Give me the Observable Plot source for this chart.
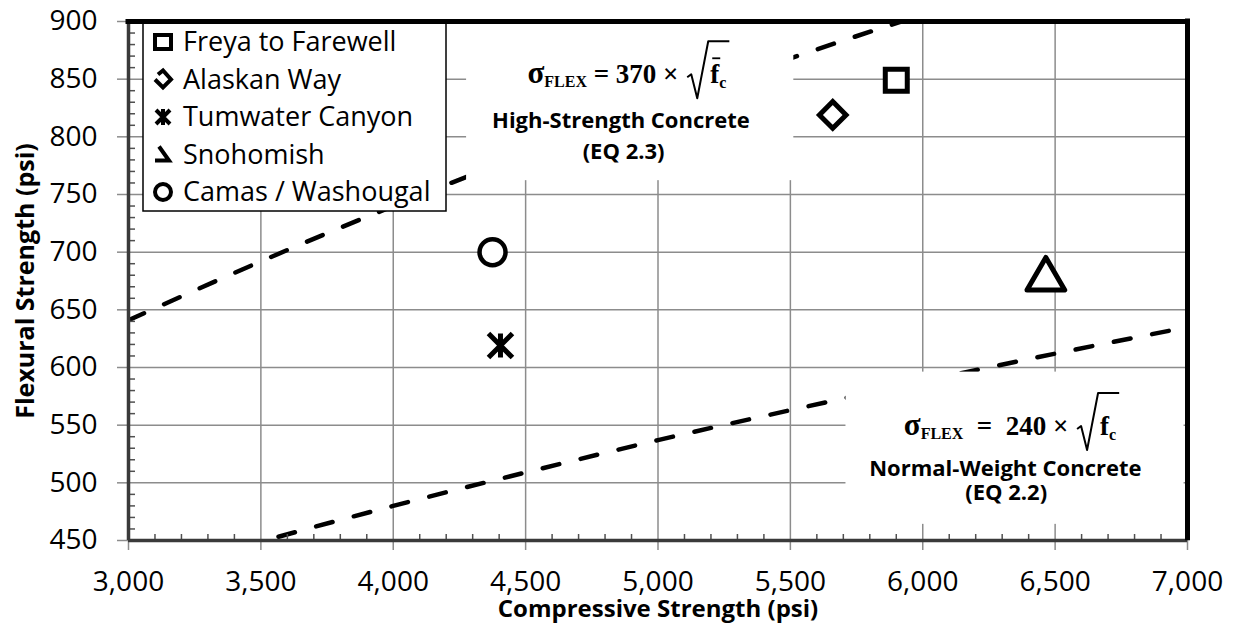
<!DOCTYPE html>
<html><head><meta charset="utf-8">
<script src="https://cdn.jsdelivr.net/npm/d3@7"></script>
<script src="https://cdn.jsdelivr.net/npm/@observablehq/plot@0.6"></script>
<style>
html,body{margin:0;padding:0;background:#fff;}
#chart{width:1234px;height:634px;}
</style></head><body><div id="chart"></div>
<script>
// ---------- data ----------
const projects = ["Freya to Farewell", "Alaskan Way", "Tumwater Canyon", "Snohomish", "Camas / Washougal"];
const compressive = [5900, 5660, 4405, 6465, 4375];
const flexural = [849, 819, 619, 680, 700];

// EQ 2.3 (high-strength) curve
const highFc = [3000, 3500, 4000, 4500, 5000, 5500, 6000];
const highFlex = [641, 692, 740, 785, 827, 868, 906];
// EQ 2.2 (normal-weight) curve
const normalFc = [3000, 3500, 4000, 4500, 5000, 5500, 6000, 6500, 7000];
const normalFlex = [416, 449, 480, 509, 537, 563, 588, 612, 635];

const xTicks = [3000, 3500, 4000, 4500, 5000, 5500, 6000, 6500, 7000];
const yTicks = [450, 500, 550, 600, 650, 700, 750, 800, 850, 900];

const eqHigh = {coef: "370", name: "High-Strength Concrete", ref: "(EQ 2.3)"};
const eqNormal = {coef: "240", name: "Normal-Weight Concrete", ref: "(EQ 2.2)"};

// ---------- derived tables ----------
const points = projects.map((name, i) => ({name, x: compressive[i], y: flexural[i]}));
const highLine = highFc.map((x, i) => ({x, y: highFlex[i]}));
const normalLine = normalFc.map((x, i) => ({x, y: normalFlex[i]}));
const xMinor = d3.range(3100, 7000, 100).filter(v => v % 500 !== 0);
const yMinor = d3.range(460, 900, 10).filter(v => v % 50 !== 0);

const W = 1234, H = 634, mL = 128, mR = 47, mT = 21, mB = 94;
const frameW = W - mL - mR, frameH = H - mT - mB;
const GRID = "#8c8c8c";

const star = {
  draw(ctx, size) {
    const r = Math.sqrt(size / Math.PI);
    ctx.moveTo(-r, -r); ctx.lineTo(r, r);
    ctx.moveTo(-r, r); ctx.lineTo(r, -r);
    ctx.moveTo(0, -r); ctx.lineTo(0, r);
  }
};
const mk = {stroke: "black", fill: "white", strokeWidth: 5};
const pick = i => points.filter(d => d.name === projects[i]);
const dash = {x: "x", y: "y", stroke: "black", strokeWidth: 4.5, strokeDasharray: "17 22", strokeLinecap: "round", curve: "monotone-x", clip: true};

const plot = Plot.plot({
  width: W, height: H,
  marginLeft: mL, marginRight: mR, marginTop: mT, marginBottom: mB,
  x: {type: "linear", domain: [3000, 7000]},
  y: {type: "linear", domain: [450, 900]},
  style: {fontFamily: "'Open Sans', sans-serif", fontSize: "28px", background: "white", color: "black"},
  marks: [
    Plot.gridX(xTicks, {stroke: GRID, strokeOpacity: 1, strokeWidth: 1.5}),
    Plot.gridY(yTicks, {stroke: GRID, strokeOpacity: 1, strokeWidth: 1.5}),
    Plot.line(highLine, dash),
    Plot.line(normalLine, dash),
    // white annotation boxes
    Plot.rect([{x1: 4277, x2: 5513, y1: 762, y2: 900}, {x1: 5710, x2: 6987, y1: 464, y2: 596}],
      {x1: "x1", x2: "x2", y1: "y1", y2: "y2", fill: "white"}),
    Plot.text([
      {x: 4860, y: 808, t: eqHigh.name}, {x: 4870, y: 781, t: eqHigh.ref},
      {x: 6312, y: 506, t: eqNormal.name}, {x: 6315, y: 485, t: eqNormal.ref}
    ], {x: "x", y: "y", text: "t", lineAnchor: "bottom", fontWeight: "bold", fontSize: 22, className: "eqlabels"}),
    Plot.dot(pick(0), {x: "x", y: "y", symbol: "square", r: 12.4, ...mk}),
    Plot.dot(pick(1), {x: "x", y: "y", symbol: "diamond2", r: 12, ...mk}),
    Plot.dot(pick(2), {x: "x", y: "y", symbol: star, r: 12, ...mk, strokeWidth: 5}),
    Plot.dot(pick(3), {x: "x", y: "y", symbol: "triangle", r: 14, dy: 4, ...mk, strokeLinejoin: "round"}),
    Plot.dot(pick(4), {x: "x", y: "y", symbol: "circle", r: 13, ...mk, strokeWidth: 4.5}),
    // minor ticks (inside)
    Plot.tickX(xMinor, {x: d => d, insetTop: frameH - 6, stroke: "#505050", strokeWidth: 1.5}),
    Plot.tickY(yMinor, {y: d => d, insetRight: frameW - 7, stroke: "#505050", strokeWidth: 1.5}),
    // axes
    Plot.axisX(xTicks, {tickFormat: d3.format(","), tickSize: 10, tickPadding: 21, label: null, stroke: GRID, strokeWidth: 1.5}),
    Plot.axisY(yTicks, {tickSize: 11, tickPadding: 20, label: null, stroke: GRID, strokeWidth: 1.5}),
    Plot.ruleX([3000], {y1: 450, y2: 900, stroke: "#3a3a3a", strokeWidth: 3.5}),
    Plot.ruleY([450], {x1: 3000, x2: 7000, stroke: "#3a3a3a", strokeWidth: 3.5}),
    Plot.ruleY([900], {x1: 3000, x2: 7000, stroke: "black", strokeWidth: 5, strokeLinecap: "square"}),
    Plot.ruleX([7000], {y1: 452, y2: 900, stroke: "black", strokeWidth: 5, strokeLinecap: "square"}),
    // axis titles
    Plot.text(["Compressive Strength (psi)"], {text: d => d, frameAnchor: "bottom", dy: 76, lineAnchor: "bottom", textAnchor: "middle", fontWeight: "bold", fontSize: 24}),
    Plot.text(["Flexural Strength (psi)"], {text: d => d, frameAnchor: "left", dx: -95, rotate: -90, lineAnchor: "bottom", textAnchor: "middle", fontWeight: "bold", fontSize: 25})
  ]
});
document.getElementById("chart").append(plot);

const svg = d3.select(plot);
const sx = plot.scale("x"), sy = plot.scale("y");

// ---------- legend ----------
const lg = d3.create("svg:g").attr("class", "legend").attr("text-anchor", "start");
lg.append("rect").attr("x", 143).attr("y", 22).attr("width", 303).attr("height", 189)
  .attr("fill", "white").attr("stroke", "black").attr("stroke-width", 1.5);
const legendGlyph = [
  (cx, cy) => `M${cx-8},${cy-7}H${cx+8}V${cy+7}H${cx-8}Z`,
  (cx, cy) => `M${cx-5},${cy-5}L${cx},${cy-9}L${cx+8},${cy}L${cx},${cy+8}L${cx-8},${cy}`,
  (cx, cy) => `M${cx-7},${cy-7}L${cx+7},${cy+7}M${cx-7},${cy+7}L${cx+7},${cy-7}M${cx},${cy-8}V${cy+8}`,
  (cx, cy) => `M${cx-4},${cy-8}L${cx+6},${cy+6}H${cx-8}`,
  (cx, cy) => `M${cx+8},${cy}A8,8 0 1,1 ${cx-8},${cy}A8,8 0 1,1 ${cx+8},${cy}Z`
];
projects.forEach((name, i) => {
  const by = 51 + i * 37.5;
  lg.append("path").attr("d", legendGlyph[i](163, by - 9))
    .attr("fill", "none").attr("stroke", "black").attr("stroke-width", 4).attr("stroke-linejoin", "miter");
  lg.append("text").attr("x", 183).attr("y", by).attr("font-size", 27).attr("text-anchor", "start").text(name);
});
svg.insert(() => lg.node(), ".eqlabels");

// ---------- equations ----------
function equation(cxv, cyv, coef, spaced, macron) {
  const g = svg.append("g").attr("font-family", "'Liberation Serif', 'DejaVu Serif', serif")
    .attr("font-weight", "bold").attr("text-anchor", "start").style("white-space", "pre");
  const t = g.append("text").attr("font-size", 27).attr("text-anchor", "start").style("white-space", "pre");
  t.append("tspan").attr("font-size", 31).text("σ");
  t.append("tspan").attr("font-size", 16).attr("dy", 4).text("FLEX");
  t.append("tspan").attr("dy", -4).text((spaced ? "  =  " : " = ") + coef + " × ");
  const w1 = t.node().getComputedTextLength();
  const rx = w1 + 2;
  const r = g.append("text").attr("x", rx + 23).attr("font-size", 27).attr("text-anchor", "start").style("white-space", "pre");
  r.append("tspan").text("f");
  const fw = r.node().getComputedTextLength();
  r.append("tspan").attr("font-size", 16).attr("dy", 5).text("c");
  const wr = r.node().getComputedTextLength();
  g.append("path").attr("d", `M${rx},${-6}L${rx+4},${-9}L${rx+10},15L${rx+21},-42H${rx+23+wr+3}`)
    .attr("fill", "none").attr("stroke", "black").attr("stroke-width", 2).attr("stroke-linejoin", "round");
  if (macron) g.append("path").attr("d", `M${rx+25},-25H${rx+23+fw+1}`).attr("stroke", "black").attr("stroke-width", 1.8);
  const total = rx + 23 + wr + 3;
  g.attr("transform", `translate(${sx.apply(cxv) - total / 2},${sy.apply(cyv)})`);
}
equation(4890, 846, eqHigh.coef, false, true);
equation(6337, 541, eqNormal.coef, true, false);
</script>
</body></html>
